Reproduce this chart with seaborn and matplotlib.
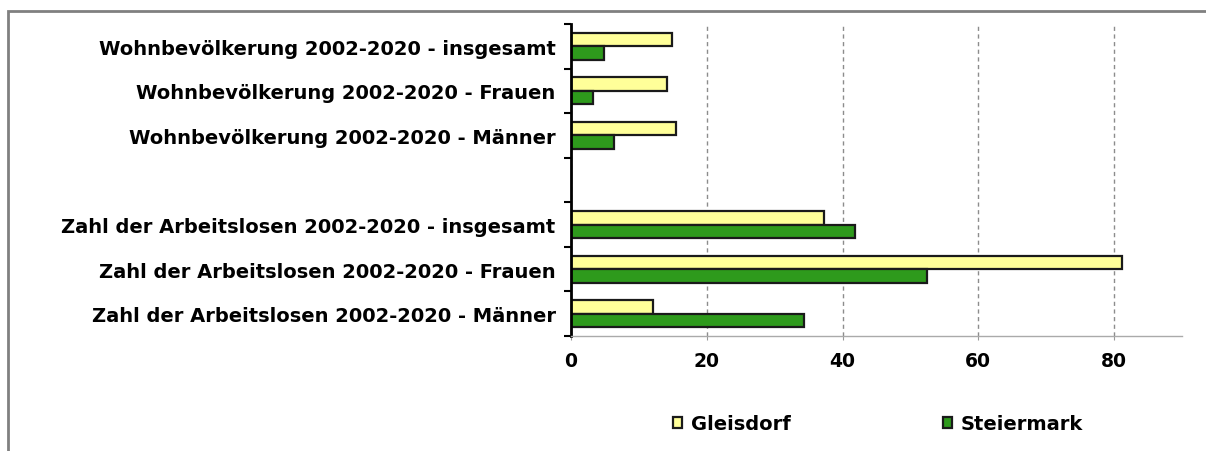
import matplotlib
matplotlib.use("Agg")
import matplotlib.pyplot as plt
from matplotlib.patches import Rectangle
from matplotlib.ticker import FixedLocator
import seaborn as sns
import pandas as pd
import numpy as np

categories = [
    "Wohnbevölkerung 2002-2020 - insgesamt",
    "Wohnbevölkerung 2002-2020 - Frauen",
    "Wohnbevölkerung 2002-2020 - Männer",
    " ",
    "Zahl der Arbeitslosen 2002-2020 - insgesamt",
    "Zahl der Arbeitslosen 2002-2020 - Frauen",
    "Zahl der Arbeitslosen 2002-2020 - Männer",
]
series_names = ["Gleisdorf", "Steiermark"]
gleisdorf = [14.9, 14.2, 15.4, np.nan, 37.2, 81.1, 12.1]
steiermark = [4.8, 3.2, 6.4, np.nan, 41.9, 52.4, 34.3]
xticks = [0, 20, 40, 60, 80]

rows = []
for cat, g, s in zip(categories, gleisdorf, steiermark):
    if not np.isnan(g):
        rows.append((cat, series_names[0], g))
        rows.append((cat, series_names[1], s))
df = pd.DataFrame(rows, columns=["Kategorie", "Region", "Wert"])

sns.set_style("white")
plt.rcParams["font.family"] = ["DejaVu Sans"]
plt.rcParams["font.weight"] = "bold"
plt.rcParams["text.color"] = "black"
plt.rcParams["xtick.color"] = "black"
plt.rcParams["ytick.color"] = "black"

fig = plt.figure(figsize=(12.06, 4.52), dpi=100)
ax = fig.add_axes([571 / 1206, 1 - 337 / 452, (1182 - 571) / 1206, (337 - 25) / 452])

palette = {"Gleisdorf": "#FFFF99", "Steiermark": "#2E9A1C"}
sns.barplot(data=df, y="Kategorie", x="Wert", hue="Region", order=categories,
            hue_order=series_names, palette=palette, orient="h", width=0.6,
            edgecolor="#1a1a1a", linewidth=1.6, saturation=1, errorbar=None, ax=ax)

ax.set_xlim(0, 90)
ax.set_ylim(len(categories) - 0.5, -0.5)
ax.set_xlabel("")
ax.set_ylabel("")
ax.set_xticks(xticks)
ax.set_xticklabels([str(t) for t in xticks], fontsize=13.5, fontweight="bold", color="black")
ax.tick_params(axis="x", bottom=True, length=3, color="#999999", pad=8)
ax.set_yticks(range(len(categories)))
ax.set_yticklabels(categories, fontsize=14, fontweight="bold", color="black")
ax.tick_params(axis="y", which="major", left=True, length=0, pad=11)
ax.yaxis.set_minor_locator(FixedLocator(np.arange(-0.5, len(categories), 1.0)))
ax.tick_params(axis="y", which="minor", left=True, length=5, width=1.5,
               color="black", direction="out")

ax.grid(axis="x", color="#8c8c8c", linestyle=(0, (3, 2.5)), linewidth=1)
ax.grid(axis="y", visible=False)
ax.set_axisbelow(True)
for side in ["top", "right"]:
    ax.spines[side].set_visible(False)
ax.spines["left"].set_color("black")
ax.spines["left"].set_linewidth(2)
ax.spines["bottom"].set_color("#aaaaaa")
ax.spines["bottom"].set_linewidth(1)

handles, labels = ax.get_legend_handles_labels()
if ax.legend_:
    ax.legend_.remove()
leg = fig.legend(handles, labels, loc="center", bbox_to_anchor=(0.728, 1 - 425 / 452),
                 ncol=2, frameon=False, fontsize=14, columnspacing=7.8,
                 handlelength=0.5, handleheight=0.5, handletextpad=0.45)
for t in leg.get_texts():
    t.set_fontweight("bold")
    t.set_color("black")

fig.patches.append(Rectangle((8 / 1206, -0.1), 1.2, 1 - 12 / 452 + 0.1,
                             transform=fig.transFigure, fill=False,
                             edgecolor="#808080", linewidth=2))

fig.savefig("out.png", dpi=100, facecolor="white")
